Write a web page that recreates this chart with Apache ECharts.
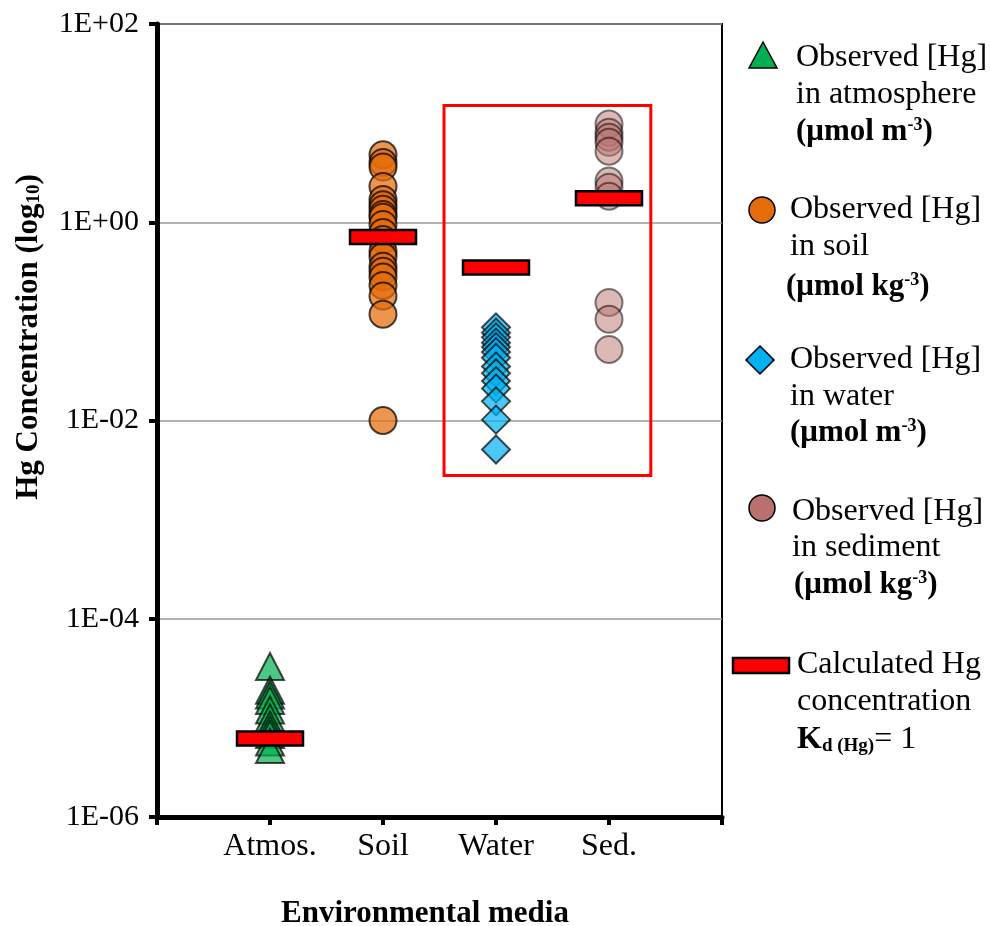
<!DOCTYPE html>
<html>
<head>
<meta charset="utf-8">
<script src="https://cdn.jsdelivr.net/npm/echarts@6/dist/echarts.min.js"></script>
<style>
  html, body { margin: 0; padding: 0; background: #fff; }
  #chart { width: 990px; height: 926px; }
</style>
</head>
<body>
<div id="chart"></div>
<script>
// Environmental media (x positions 1..4 on the x axis)
var categories = ['', 'Atmos.', 'Soil', 'Water', 'Sed.', ''];

// Observed Hg concentrations per medium
var atmosphere = [3.3e-5, 1.9e-5, 1.7e-5, 1.5e-5, 1.2e-5, 1.0e-5, 8.5e-6, 7.6e-6, 6.8e-6, 5.7e-6, 4.8e-6];
var soil = [4.8, 4.0, 3.6, 2.3, 1.7, 1.5, 1.35, 1.2, 1.12, 0.95, 0.79, 0.67, 0.51, 0.45, 0.36, 0.32, 0.28, 0.23, 0.18, 0.118, 0.01];
var water = [0.087, 0.077, 0.069, 0.061, 0.055, 0.049, 0.043, 0.035, 0.030, 0.025, 0.021, 0.0156, 0.0102, 0.0051];
var sediment = [9.8, 8.1, 7.2, 6.4, 5.2, 2.6, 2.26, 1.83, 0.155, 0.105, 0.052];

// Calculated Hg concentration (Kd = 1), one per medium
var calculated = [6.2e-6, 0.71, 0.35, 1.75];

// Highlight box around water and sediment: [xFrom, yTop], [xTo, yBottom]
var boxFrom = [2.54, 15.1];
var boxTo = [4.37, 0.00278];

var serif = 'Liberation Serif';

function pts(x, arr) { return arr.map(function (v) { return [x, v]; }); }

function expLabel(v) {
  var e = Math.round(Math.log10(v));
  var a = Math.abs(e);
  return '1E' + (e >= 0 ? '+' : '-') + (a < 10 ? '0' : '') + a;
}

var chart = echarts.init(document.getElementById('chart'), null, { renderer: 'canvas' });

var txt = function (x, y, text, rich) {
  return {
    type: 'text', x: x, y: y, z: 100,
    style: {
      text: text, fill: '#000',
      fontFamily: serif, fontSize: 32,
      verticalAlign: 'middle', align: 'left', rich: rich || {}
    }
  };
};

var richUnits = {
  b: { fontFamily: serif, fontSize: 31, fontWeight: 'bold' },
  sup: { fontFamily: serif, fontSize: 18, fontWeight: 'bold', padding: [0, 0, 13, 0] }
};
var richK = {
  k: { fontFamily: serif, fontSize: 32, fontWeight: 'bold' },
  sub: { fontFamily: serif, fontSize: 19, fontWeight: 'bold', padding: [13, 0, 0, 0] },
  n: { fontFamily: serif, fontSize: 32 }
};

// Flat red marker for each calculated value, centred on the data point
function renderCalc(params, api) {
  var c = api.coord([api.value(0), api.value(1)]);
  var w = 66, h = 14;
  return {
    type: 'rect',
    shape: { x: c[0] - w / 2, y: c[1] - h / 2, width: w, height: h },
    style: { fill: '#FF0000', stroke: '#000', lineWidth: 2.5 }
  };
}

var option = {
  backgroundColor: '#fff',
  animation: false,
  grid: {
    left: 157, right: 268, top: 24, bottom: 109,
    show: true, borderColor: '#000', borderWidth: 2, backgroundColor: 'transparent'
  },
  xAxis: {
    type: 'value', min: 0, max: 5, interval: 1,
    axisLine: { show: true, onZero: false, lineStyle: { color: '#000', width: 5 } },
    axisTick: { show: true, length: 8, lineStyle: { color: '#000', width: 4 } },
    splitLine: { show: false },
    axisLabel: {
      margin: 14, color: '#000', fontFamily: serif, fontSize: 32,
      formatter: function (v) { return categories[Math.round(v)] || ''; }
    }
  },
  yAxis: {
    type: 'log', logBase: 100, min: 1e-6, max: 1e2,
    axisLine: { show: true, lineStyle: { color: '#000', width: 5 } },
    axisTick: { show: true, length: 8, lineStyle: { color: '#000', width: 4 } },
    splitLine: { show: true, lineStyle: { color: '#9a9a9a', width: 1.5 } },
    axisLabel: {
      margin: 18, color: '#000', fontFamily: serif, fontSize: 30,
      formatter: expLabel
    }
  },
  series: [
    {
      name: 'Atmosphere', type: 'scatter', symbol: 'triangle', symbolSize: [28, 27],
      data: pts(1, atmosphere), z: 2,
      itemStyle: { color: '#00B050', opacity: 0.7, borderColor: '#000', borderWidth: 2 }
    },
    {
      name: 'Soil', type: 'scatter', symbol: 'circle', symbolSize: 27,
      data: pts(2, soil), z: 2,
      itemStyle: { color: '#E46C0A', opacity: 0.72, borderColor: '#000', borderWidth: 2 }
    },
    {
      name: 'Water', type: 'scatter', symbol: 'diamond', symbolSize: 28,
      data: pts(3, water), z: 2,
      itemStyle: { color: '#00B0F0', opacity: 0.7, borderColor: '#000', borderWidth: 2 },
      markArea: {
        silent: true,
        itemStyle: { color: 'rgba(0,0,0,0)', borderColor: '#FF0000', borderWidth: 3, opacity: 1 },
        data: [[{ coord: boxFrom }, { coord: boxTo }]]
      }
    },
    {
      name: 'Sediment', type: 'scatter', symbol: 'circle', symbolSize: 27,
      data: pts(4, sediment), z: 2,
      itemStyle: { color: '#B9716F', opacity: 0.5, borderColor: '#000', borderWidth: 2 }
    },
    {
      name: 'Calculated', type: 'custom', renderItem: renderCalc, z: 5,
      data: calculated.map(function (v, i) { return [i + 1, v]; })
    }
  ],
  graphic: [
    // axis titles
    {
      type: 'text', x: 29, y: 337, rotation: Math.PI / 2, z: 100,
      style: {
        text: '{t|Hg Concentration (log}{s|10}{t|)}',
        align: 'center', verticalAlign: 'middle',
        rich: {
          t: { fontFamily: serif, fontSize: 31, fontWeight: 'bold' },
          s: { fontFamily: serif, fontSize: 19, fontWeight: 'bold', padding: [11, 0, 0, 0] }
        }
      }
    },
    {
      type: 'text', x: 425, y: 914, z: 100,
      style: {
        text: 'Environmental media', fill: '#000',
        fontFamily: serif, fontSize: 31, fontWeight: 'bold',
        align: 'center', verticalAlign: 'middle'
      }
    },
    // legend icons
    {
      type: 'polygon', z: 100,
      shape: { points: [[763, 42], [749, 68], [777, 68]] },
      style: { fill: '#00B050', stroke: '#000', lineWidth: 1.5 }
    },
    {
      type: 'circle', z: 100, shape: { cx: 762, cy: 210, r: 13 },
      style: { fill: '#E46C0A', stroke: '#000', lineWidth: 1.5 }
    },
    {
      type: 'polygon', z: 100,
      shape: { points: [[760, 346], [774, 360], [760, 374], [746, 360]] },
      style: { fill: '#00B0F0', stroke: '#000', lineWidth: 1.5 }
    },
    {
      type: 'circle', z: 100, shape: { cx: 762, cy: 508, r: 13 },
      style: { fill: '#B9716F', stroke: '#000', lineWidth: 1.5 }
    },
    {
      type: 'rect', z: 100, shape: { x: 733, y: 658, width: 56, height: 15 },
      style: { fill: '#FF0000', stroke: '#000', lineWidth: 2.5 }
    },
    // legend texts
    txt(796, 58, 'Observed [Hg]'),
    txt(796, 95, 'in atmosphere'),
    txt(796, 132, '{b|(μmol m}{sup|-3}{b|)}', richUnits),
    txt(790, 210, 'Observed [Hg]'),
    txt(790, 247, 'in soil'),
    txt(786, 287, '{b|(μmol kg}{sup|-3}{b|)}', richUnits),
    txt(790, 360, 'Observed [Hg]'),
    txt(790, 397, 'in water'),
    txt(790, 433, '{b|(μmol m}{sup|-3}{b|)}', richUnits),
    txt(792, 512, 'Observed [Hg]'),
    txt(792, 548, 'in sediment'),
    txt(794, 585, '{b|(μmol kg}{sup|-3}{b|)}', richUnits),
    txt(797, 665, 'Calculated Hg'),
    txt(797, 702, 'concentration'),
    txt(797, 740, '{k|K}{sub|d (Hg)}{n|= 1}', richK)
  ]
};

chart.setOption(option);
</script>
</body>
</html>
